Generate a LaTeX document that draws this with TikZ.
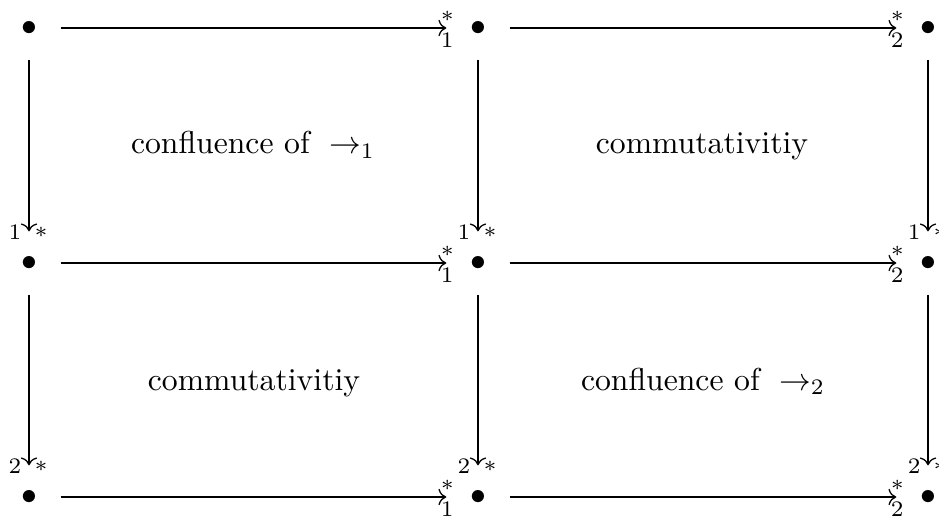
\documentclass[tikz,border=0pt]{standalone}
\usetikzlibrary{arrows.meta}
\begin{document}
\begin{tikzpicture}[x=0.3155pt,y=-0.3155pt,
  pt/.style={circle,inner sep=0pt,minimum size=19.6pt},
  arr/.style={->,line width=0.4pt},
  lab/.style={inner sep=0pt,anchor=base,font=\scriptsize},
  txt/.style={inner sep=0pt,anchor=base}]
\useasboundingbox (0,0) rectangle (939,518);
\foreach \r/\y in {1/28,2/263,3/497}{
  \foreach \c/\x in {1/29,2/478,3/928}{
    \node[pt] (b\r\c) at (\x,\y) {$\bullet$};
  }
}
% horizontal arrows
\foreach \r in {1,2,3}{
  \draw[arr] (b\r1) -- (b\r2)
     node[lab,pos=1,xshift=0.3pt,yshift=2.2pt] {$*$}
     node[lab,pos=1,xshift=0.3pt,yshift=-6.3pt] {$1$};
  \draw[arr] (b\r2) -- (b\r3)
     node[lab,pos=1,xshift=0.3pt,yshift=2.2pt] {$*$}
     node[lab,pos=1,xshift=0.3pt,yshift=-6.3pt] {$2$};
}
% vertical arrows
\foreach \c in {1,2,3}{
  \draw[arr] (b1\c) -- (b2\c)
     node[lab,pos=1,xshift=-4.4pt,yshift=-2.5pt] {$1$}
     node[lab,pos=1,xshift=3.8pt,yshift=-1.9pt] {$*$};
  \draw[arr] (b2\c) -- (b3\c)
     node[lab,pos=1,xshift=-4.4pt,yshift=-2.5pt] {$2$}
     node[lab,pos=1,xshift=3.8pt,yshift=-1.9pt] {$*$};
}
\node[txt] (t1) at (253,154) {confluence of $\;\to_1$};
\node[txt] (t2) at (702,154) {commutativitiy};
\node[txt] (t3) at (254,390) {commutativitiy};
\node[txt] (t4) at (703,390) {confluence of $\;\to_2$};
\end{tikzpicture}
\end{document}
